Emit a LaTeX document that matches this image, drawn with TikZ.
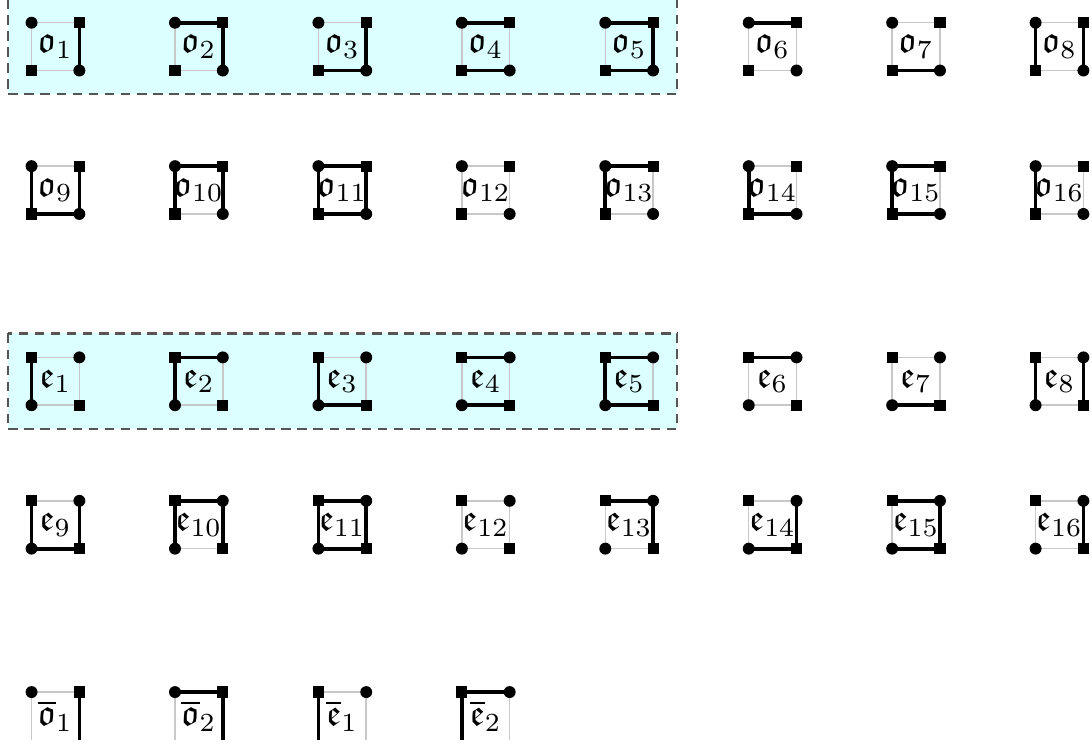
\documentclass[tikz,border=0pt]{standalone}
\usepackage{amsmath,amssymb}
\usepackage{xcolor}
\usepackage{tikz}
\definecolor{figline}{RGB}{0,0,0}
\definecolor{figgray}{RGB}{200,200,200}
\definecolor{bandfill}{RGB}{220,255,255}
\definecolor{bandline}{RGB}{85,85,85}
\tikzset{
  edg/.style  ={draw=figgray, line width=0.4pt},
  bnd/.style  ={draw=figline, line width=1pt},
  dotc/.style ={circle, fill=figline, inner sep=0pt, minimum size=3.2pt},
  sqc/.style  ={rectangle, fill=figline, inner sep=0pt, minimum size=3pt},
  lab/.style  ={inner sep=0pt},
  band/.style ={fill=bandfill, draw=bandline, line width=0.55pt, dash pattern=on 2.6pt off 1.7pt},
}
% one tile: position of top-left corner, name, label, marker at tl/br, marker at tr/bl
\newcommand{\wtile}[5]{%
  \begin{scope}[shift={(#1)}]
    \coordinate (#2-tl) at (0,0);
    \coordinate (#2-tr) at (1,0);
    \coordinate (#2-bl) at (0,-1);
    \coordinate (#2-br) at (1,-1);
    \draw[edg] (#2-tl) rectangle (#2-br);
    \node[#4] (#2-a) at (#2-tl) {};
    \node[#4] (#2-b) at (#2-br) {};
    \node[#5] (#2-c) at (#2-tr) {};
    \node[#5] (#2-d) at (#2-bl) {};
    \node[lab] (#2-lab) at (0.5,-0.5) {$#3$};
  \end{scope}}
% open tile: no bottom side and no bottom corners
\newcommand{\btile}[5]{%
  \begin{scope}[shift={(#1)}]
    \coordinate (#2-tl) at (0,0);
    \coordinate (#2-tr) at (1,0);
    \coordinate (#2-bl) at (0,-1);
    \coordinate (#2-br) at (1,-1);
    \draw[edg] (#2-bl) -- (#2-tl) -- (#2-tr) -- (#2-br);
    \node[#4] (#2-a) at (#2-tl) {};
    \node[#5] (#2-c) at (#2-tr) {};
    \node[lab] (#2-lab) at (0.5,-0.5) {$#3$};
  \end{scope}}

\begin{document}
\begin{tikzpicture}[x=0.45cm,y=0.45cm]
  \useasboundingbox (-0.66,0.475) rectangle (22.18,-15.11);
  \path[band] (-0.5,0.5) rectangle (13.5,-1.5);
  \path[band] (-0.5,-6.5) rectangle (13.5,-8.5);
  % o tiles, first row
  \wtile{0,0}{o1}{\mathfrak{o}_{1}}{dotc}{sqc}
  \draw[bnd] (o1-tr) -- (o1-br);
  \wtile{3,0}{o2}{\mathfrak{o}_{2}}{dotc}{sqc}
  \draw[bnd] (o2-tl) -- (o2-tr) -- (o2-br);
  \wtile{6,0}{o3}{\mathfrak{o}_{3}}{dotc}{sqc}
  \draw[bnd] (o3-tr) -- (o3-br) -- (o3-bl);
  \wtile{9,0}{o4}{\mathfrak{o}_{4}}{dotc}{sqc}
  \draw[bnd] (o4-tl) -- (o4-tr) (o4-bl) -- (o4-br);
  \wtile{12,0}{o5}{\mathfrak{o}_{5}}{dotc}{sqc}
  \draw[bnd] (o5-tl) -- (o5-tr) -- (o5-br) -- (o5-bl);
  \wtile{15,0}{o6}{\mathfrak{o}_{6}}{dotc}{sqc}
  \draw[bnd] (o6-tl) -- (o6-tr);
  \wtile{18,0}{o7}{\mathfrak{o}_{7}}{dotc}{sqc}
  \draw[bnd] (o7-bl) -- (o7-br);
  \wtile{21,0}{o8}{\mathfrak{o}_{8}}{dotc}{sqc}
  \draw[bnd] (o8-tl) -- (o8-bl) (o8-tr) -- (o8-br);
  % o tiles, second row
  \wtile{0,-3}{o9}{\mathfrak{o}_{9}}{dotc}{sqc}
  \draw[bnd] (o9-tl) -- (o9-bl) -- (o9-br) -- (o9-tr);
  \wtile{3,-3}{o10}{\mathfrak{o}_{10}}{dotc}{sqc}
  \draw[bnd] (o10-bl) -- (o10-tl) -- (o10-tr) -- (o10-br);
  \wtile{6,-3}{o11}{\mathfrak{o}_{11}}{dotc}{sqc}
  \draw[bnd] (o11-tl) -- (o11-tr) -- (o11-br) -- (o11-bl) -- cycle;
  \wtile{9,-3}{o12}{\mathfrak{o}_{12}}{dotc}{sqc}
  \wtile{12,-3}{o13}{\mathfrak{o}_{13}}{dotc}{sqc}
  \draw[bnd] (o13-bl) -- (o13-tl) -- (o13-tr);
  \wtile{15,-3}{o14}{\mathfrak{o}_{14}}{dotc}{sqc}
  \draw[bnd] (o14-tl) -- (o14-bl) -- (o14-br);
  \wtile{18,-3}{o15}{\mathfrak{o}_{15}}{dotc}{sqc}
  \draw[bnd] (o15-br) -- (o15-bl) -- (o15-tl) -- (o15-tr);
  \wtile{21,-3}{o16}{\mathfrak{o}_{16}}{dotc}{sqc}
  \draw[bnd] (o16-tl) -- (o16-bl);
  % e tiles, first row
  \wtile{0,-7}{e1}{\mathfrak{e}_{1}}{sqc}{dotc}
  \draw[bnd] (e1-tl) -- (e1-bl);
  \wtile{3,-7}{e2}{\mathfrak{e}_{2}}{sqc}{dotc}
  \draw[bnd] (e2-tr) -- (e2-tl) -- (e2-bl);
  \wtile{6,-7}{e3}{\mathfrak{e}_{3}}{sqc}{dotc}
  \draw[bnd] (e3-tl) -- (e3-bl) -- (e3-br);
  \wtile{9,-7}{e4}{\mathfrak{e}_{4}}{sqc}{dotc}
  \draw[bnd] (e4-tl) -- (e4-tr) (e4-bl) -- (e4-br);
  \wtile{12,-7}{e5}{\mathfrak{e}_{5}}{sqc}{dotc}
  \draw[bnd] (e5-tr) -- (e5-tl) -- (e5-bl) -- (e5-br);
  \wtile{15,-7}{e6}{\mathfrak{e}_{6}}{sqc}{dotc}
  \draw[bnd] (e6-tl) -- (e6-tr);
  \wtile{18,-7}{e7}{\mathfrak{e}_{7}}{sqc}{dotc}
  \draw[bnd] (e7-bl) -- (e7-br);
  \wtile{21,-7}{e8}{\mathfrak{e}_{8}}{sqc}{dotc}
  \draw[bnd] (e8-tl) -- (e8-bl) (e8-tr) -- (e8-br);
  % e tiles, second row
  \wtile{0,-10}{e9}{\mathfrak{e}_{9}}{sqc}{dotc}
  \draw[bnd] (e9-tl) -- (e9-bl) -- (e9-br) -- (e9-tr);
  \wtile{3,-10}{e10}{\mathfrak{e}_{10}}{sqc}{dotc}
  \draw[bnd] (e10-bl) -- (e10-tl) -- (e10-tr) -- (e10-br);
  \wtile{6,-10}{e11}{\mathfrak{e}_{11}}{sqc}{dotc}
  \draw[bnd] (e11-tl) -- (e11-tr) -- (e11-br) -- (e11-bl) -- cycle;
  \wtile{9,-10}{e12}{\mathfrak{e}_{12}}{sqc}{dotc}
  \wtile{12,-10}{e13}{\mathfrak{e}_{13}}{sqc}{dotc}
  \draw[bnd] (e13-tl) -- (e13-tr) -- (e13-br);
  \wtile{15,-10}{e14}{\mathfrak{e}_{14}}{sqc}{dotc}
  \draw[bnd] (e14-tr) -- (e14-br) -- (e14-bl);
  \wtile{18,-10}{e15}{\mathfrak{e}_{15}}{sqc}{dotc}
  \draw[bnd] (e15-tl) -- (e15-tr) -- (e15-br) -- (e15-bl);
  \wtile{21,-10}{e16}{\mathfrak{e}_{16}}{sqc}{dotc}
  \draw[bnd] (e16-tr) -- (e16-br);
  % open tiles
  \btile{0,-14}{ob1}{\overline{\mathfrak{o}}_{1}}{dotc}{sqc}
  \draw[bnd] (ob1-tr) -- (ob1-br);
  \btile{3,-14}{ob2}{\overline{\mathfrak{o}}_{2}}{dotc}{sqc}
  \draw[bnd] (ob2-tl) -- (ob2-tr) -- (ob2-br);
  \btile{6,-14}{eb1}{\overline{\mathfrak{e}}_{1}}{sqc}{dotc}
  \draw[bnd] (eb1-tl) -- (eb1-bl);
  \btile{9,-14}{eb2}{\overline{\mathfrak{e}}_{2}}{sqc}{dotc}
  \draw[bnd] (eb2-tr) -- (eb2-tl) -- (eb2-bl);
\end{tikzpicture}
\end{document}
